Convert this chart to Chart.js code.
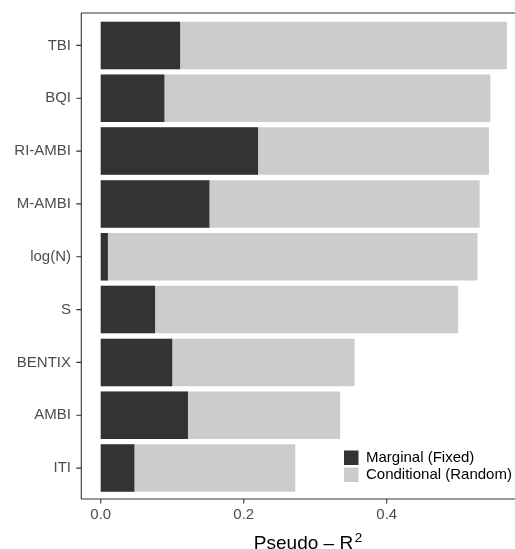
<!DOCTYPE html>
<html>
<head>
<meta charset="utf-8">
<script src="https://cdn.jsdelivr.net/npm/chart.js@4/dist/chart.umd.min.js"></script>
<style>
  html, body { margin: 0; padding: 0; background: #ffffff; overflow: hidden; }
  canvas { display: block; }
</style>
</head>
<body>
<canvas id="chart" width="515" height="549"></canvas>
<script>
// Variance explained by each index: fixed effects only vs fixed + random
const indices = ['TBI', 'BQI', 'RI-AMBI', 'M-AMBI', 'log(N)', 'S', 'BENTIX', 'AMBI', 'ITI'];
const marginal = [0.111, 0.089, 0.220, 0.152, 0.010, 0.076, 0.100, 0.122, 0.047];
const conditional = [0.568, 0.545, 0.543, 0.530, 0.527, 0.500, 0.355, 0.335, 0.272];
const xTicks = [0, 0.2, 0.4];
const seriesNames = ['Marginal (Fixed)', 'Conditional (Random)'];
const seriesColors = ['#333333', '#cccccc'];

const FONT = "'Liberation Sans', Arial, sans-serif";
const AXIS_COLOR = '#333333';
const PANEL = { top: 13, bottom: 499 };

// Panel frame, tick marks, in-panel legend and axis title
const decorations = {
  id: 'decorations',
  afterDraw(chart) {
    const ctx = chart.ctx;
    const area = chart.chartArea;
    const xs = chart.scales.x;
    const ys = chart.scales.y;
    const left = area.left + 0.3;
    const right = chart.width;

    ctx.save();
    ctx.strokeStyle = AXIS_COLOR;
    ctx.lineWidth = 1.1;
    ctx.beginPath();
    ctx.moveTo(left, PANEL.top);
    ctx.lineTo(right, PANEL.top);
    ctx.moveTo(left, PANEL.top);
    ctx.lineTo(left, PANEL.bottom);
    ctx.moveTo(left, PANEL.bottom);
    ctx.lineTo(right, PANEL.bottom);
    ctx.stroke();

    // tick marks
    ctx.beginPath();
    xTicks.forEach(v => {
      const px = xs.getPixelForValue(v);
      ctx.moveTo(px, PANEL.bottom);
      ctx.lineTo(px, PANEL.bottom + 4.5);
    });
    indices.forEach((_, i) => {
      const py = ys.getPixelForValue(i);
      ctx.moveTo(left, py);
      ctx.lineTo(left - 5, py);
    });
    ctx.stroke();

    // legend
    const lx = 344, ly = [450.5, 467.5];
    ctx.font = '15px ' + FONT;
    ctx.textBaseline = 'middle';
    ctx.textAlign = 'left';
    seriesNames.forEach((name, i) => {
      ctx.fillStyle = seriesColors[i];
      ctx.fillRect(lx, ly[i], 14.5, 14.5);
      ctx.fillStyle = '#000000';
      ctx.fillText(name, 366, ly[i] + 7.8);
    });

    // axis title with superscript
    const main = 'Pseudo \u2013 R';
    const sup = '2';
    ctx.font = '19px ' + FONT;
    const wMain = ctx.measureText(main).width;
    ctx.font = '13.5px ' + FONT;
    const wSup = ctx.measureText(sup).width;
    const total = wMain + 1.5 + wSup;
    const startX = 308 - total / 2;
    ctx.fillStyle = '#000000';
    ctx.textBaseline = 'alphabetic';
    ctx.font = '19px ' + FONT;
    ctx.fillText(main, startX, 549);
    ctx.font = '13.5px ' + FONT;
    ctx.fillText(sup, startX + wMain + 1.5, 541.5);
    ctx.restore();
  }
};

new Chart(document.getElementById('chart'), {
  type: 'bar',
  data: {
    labels: indices,
    datasets: [
      {
        label: seriesNames[0],
        data: marginal,
        backgroundColor: seriesColors[0],
        grouped: false,
        categoryPercentage: 0.9,
        barPercentage: 1.0,
        borderWidth: 0
      },
      {
        label: seriesNames[1],
        data: conditional,
        backgroundColor: seriesColors[1],
        grouped: false,
        categoryPercentage: 0.9,
        barPercentage: 1.0,
        borderWidth: 0
      }
    ]
  },
  options: {
    indexAxis: 'y',
    responsive: false,
    animation: false,
    devicePixelRatio: 1,
    layout: { padding: { top: 17.5, right: 0, bottom: 0, left: 0 } },
    plugins: {
      legend: { display: false },
      tooltip: { enabled: false },
      title: { display: false }
    },
    scales: {
      x: {
        type: 'linear',
        min: -0.0276,
        max: 0.5794,
        afterBuildTicks(scale) {
          scale.ticks = xTicks.map(v => ({ value: v }));
        },
        afterFit(scale) { scale.height = 54.5; },
        grid: { display: false, drawTicks: false },
        border: { display: false },
        ticks: {
          color: '#4d4d4d',
          font: { family: FONT, size: 15 },
          padding: 11,
          maxRotation: 0,
          callback: v => Number(v).toFixed(1)
        }
      },
      y: {
        type: 'category',
        afterFit(scale) { scale.width = 81; },
        grid: { display: false, drawTicks: false },
        border: { display: false },
        ticks: {
          color: '#4d4d4d',
          font: { family: FONT, size: 15 },
          padding: 10
        }
      }
    }
  },
  plugins: [decorations]
});
</script>
</body>
</html>
